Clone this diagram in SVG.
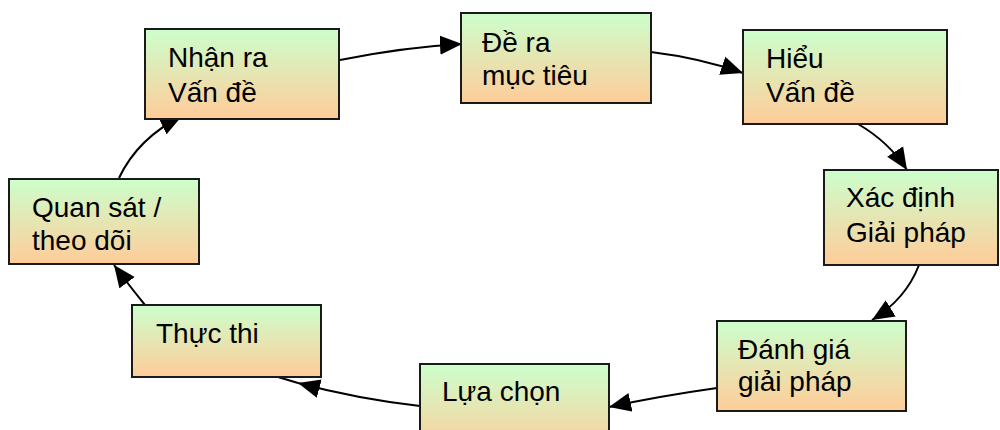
<svg xmlns="http://www.w3.org/2000/svg" width="1000" height="430" viewBox="0 0 1000 430">
  <defs>
    <linearGradient id="boxFill" x1="0" y1="0" x2="0" y2="1">
      <stop offset="0" stop-color="#CCFFCC"/>
      <stop offset="1" stop-color="#FFCC99"/>
    </linearGradient>
    <marker id="arrow" markerUnits="userSpaceOnUse" markerWidth="22" markerHeight="20" refX="22" refY="10" orient="auto">
      <path d="M0,0.5 L22,10 L0,19.5 z" fill="#000"/>
    </marker>
    <style>
      .box { fill: url(#boxFill); stroke: #1a1a1a; stroke-width: 2; }
      .lbl { font-family: "Liberation Sans", Arial, sans-serif; font-size: 28px; fill: #000; }
      .edge { fill: none; stroke: #000; stroke-width: 2; marker-end: url(#arrow); }
    </style>
  </defs>

  <!-- cycle connectors, drawn beneath the boxes -->
  <g id="connectors">
    <path class="edge" d="M340,60 Q405,47 462,44"/>
    <path class="edge" d="M651,52 Q700,58 743,73"/>
    <path class="edge" d="M858,124 Q889,142 907,170"/>
    <path class="edge" d="M919,265 Q906,299 872,320"/>
    <path class="edge" d="M717,388 Q660,396 609,407"/>
    <path class="edge" d="M278,377 L298,383 M420,406 Q358,399 298,383"/>
    <path class="edge" d="M145,305 Q128,284 114,265"/>
    <path class="edge" d="M119,178 Q138,138 182,116"/>
  </g>

  <g id="nhan-ra">
    <rect class="box" x="145" y="29" width="194" height="90"/>
    <text class="lbl" x="168" y="67">Nhận ra</text>
    <text class="lbl" x="168" y="102">Vấn đề</text>
  </g>

  <g id="de-ra">
    <rect class="box" x="461" y="13" width="190" height="90"/>
    <text class="lbl" x="482" y="52">Đề ra</text>
    <text class="lbl" x="482" y="85">mục tiêu</text>
  </g>

  <g id="hieu">
    <rect class="box" x="743" y="30" width="204" height="94"/>
    <text class="lbl" x="766" y="68">Hiểu</text>
    <text class="lbl" x="766" y="102">Vấn đề</text>
  </g>

  <g id="xac-dinh">
    <rect class="box" x="824" y="170" width="174" height="95"/>
    <text class="lbl" x="846" y="207">Xác định</text>
    <text class="lbl" x="846" y="242">Giải pháp</text>
  </g>

  <g id="danh-gia">
    <rect class="box" x="717" y="321" width="189" height="90"/>
    <text class="lbl" x="738" y="359">Đánh giá</text>
    <text class="lbl" x="738" y="391">giải pháp</text>
  </g>

  <g id="lua-chon">
    <rect class="box" x="420" y="364" width="189" height="90"/>
    <text class="lbl" x="442" y="401">Lựa chọn</text>
  </g>

  <g id="thuc-thi">
    <rect class="box" x="132" y="305" width="189" height="72"/>
    <text class="lbl" x="156" y="343">Thực thi</text>
  </g>

  <g id="quan-sat">
    <rect class="box" x="9" y="179" width="190" height="85"/>
    <text class="lbl" x="32" y="217">Quan sát /</text>
    <text class="lbl" x="32" y="250">theo dõi</text>
  </g>
</svg>
